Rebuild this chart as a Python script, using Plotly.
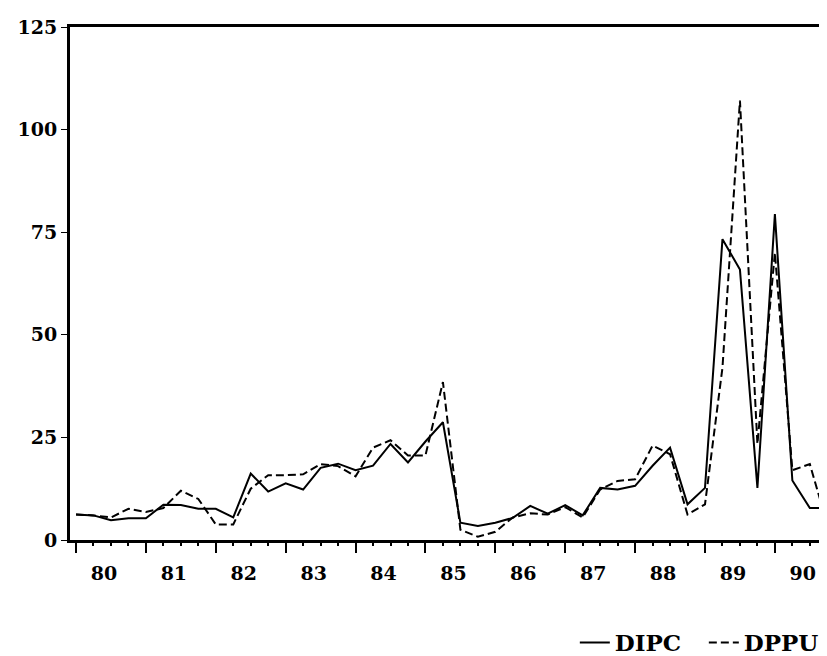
import plotly.graph_objects as go

# quarterly observations 1980Q1 .. 1990Q4
years = list(range(1980, 1991))
quarters = [1, 2, 3, 4]
year_labels = [str(y)[2:] for y in years]

dipc = [
    6.2, 6.0, 4.8, 5.3, 5.3, 8.6, 8.5, 7.6, 7.6, 5.5,
    16.2, 11.8, 13.8, 12.3, 17.6, 18.6, 17.0, 18.1, 23.4, 18.9,
    24.0, 28.7, 4.2, 3.4, 4.2, 5.4, 8.3, 6.4, 8.5, 6.0,
    12.7, 12.3, 13.2, 18.1, 22.5, 8.7, 12.7, 73.3, 65.9, 12.7,
    79.4, 14.5, 7.8, 7.8,
]
dppu = [
    6.2, 6.0, 5.5, 7.6, 6.8, 7.8, 12.0, 10.0, 3.8, 3.8,
    12.5, 15.8, 15.8, 16.0, 18.5, 18.0, 15.5, 22.5, 24.3, 20.6,
    20.6, 38.5, 2.5, 0.8, 2.0, 5.5, 6.5, 6.2, 8.0, 5.5,
    12.3, 14.4, 14.8, 23.0, 20.9, 6.2, 8.7, 42.0, 107.1, 23.4,
    70.0, 17.0, 18.5, 3.8,
]
y_ticks = [0, 25, 50, 75, 100, 125]

t = [y + (q - 1) / 4 for y in years for q in quarters]
FONT = dict(family="DejaVu Serif", size=19, color="black", weight="bold")
x_range = [1979.914, 1990.76]

fig = go.Figure()
fig.add_trace(go.Scatter(x=t, y=dipc, mode="lines", name="DIPC",
                         line=dict(color="black", width=2)))
fig.add_trace(go.Scatter(x=t, y=dppu, mode="lines", name="DPPU",
                         line=dict(color="black", width=2, dash="8px,4px")))
# invisible trace carrying the tick axis
fig.add_trace(go.Scatter(x=[years[0]], y=[0], xaxis="x2", mode="none",
                         showlegend=False, hoverinfo="skip"))

fig.update_layout(
    width=827,
    height=656,
    paper_bgcolor="white",
    plot_bgcolor="white",
    margin=dict(l=62, r=7, t=19, b=124, autoexpand=False),
    font=FONT,
    xaxis=dict(
        range=x_range,
        tickvals=[y + 0.4 for y in years],
        ticktext=year_labels,
        ticks="",
        ticklabelstandoff=14,
        showgrid=False,
        zeroline=False,
        showline=True,
        linecolor="black",
        linewidth=3,
        mirror=True,
        automargin=False,
        tickfont=FONT,
    ),
    xaxis2=dict(
        range=x_range,
        overlaying="x",
        anchor="y",
        side="bottom",
        tickvals=years,
        ticks="outside",
        ticklen=12,
        tickwidth=2,
        tickcolor="black",
        showticklabels=False,
        showgrid=False,
        zeroline=False,
        automargin=False,
        minor=dict(tickvals=t, ticks="outside", ticklen=5, tickwidth=2,
                   tickcolor="black", showgrid=False),
    ),
    yaxis=dict(
        range=[0, 125],
        tickvals=y_ticks,
        ticks="outside",
        ticklen=6,
        tickwidth=1,
        tickcolor="black",
        showgrid=False,
        zeroline=False,
        showline=True,
        linecolor="black",
        linewidth=3,
        mirror=True,
        automargin=False,
        tickfont=FONT,
    ),
    legend=dict(
        orientation="h",
        x=0.666,
        y=-0.2417,
        xanchor="left",
        yanchor="bottom",
        font=dict(family="DejaVu Serif", size=23, color="black", weight="bold"),
        itemwidth=30,
        entrywidth=84,
        entrywidthmode="pixels",
        bgcolor="rgba(0,0,0,0)",
    ),
)

fig.write_html("out.html")
